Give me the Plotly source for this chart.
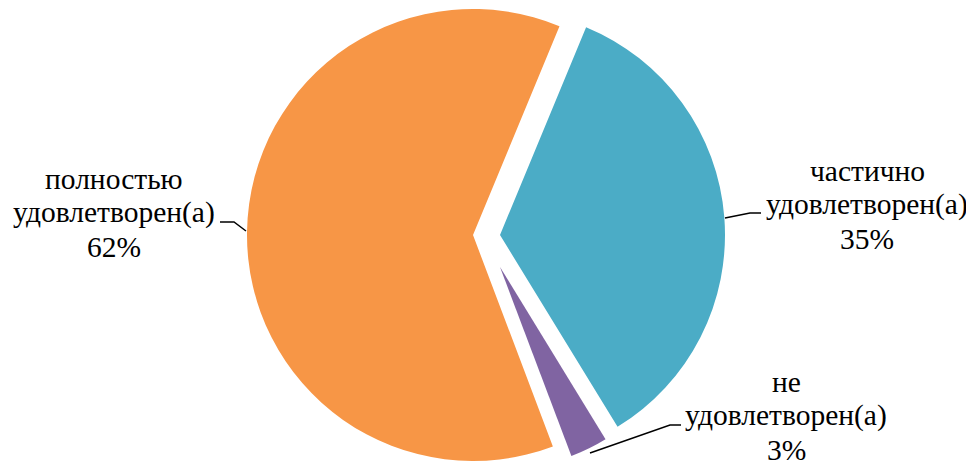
import plotly.graph_objects as go

# ---- data ----
categories = ["частично удовлетворен(а)", "не удовлетворен(а)", "полностью удовлетворен(а)"]
values = [35, 3, 62]
colors = ["#4BACC6", "#8064A2", "#F79646"]

# ---- layout (pixel geometry, in page pixels, of the exploded slices and labels) ----
W, H = 974, 461
OFFSET = 8  # default page (body) margin in front of the figure
slice_geom = [(500, 235, 225), (500, 267, 202), (473, 235, 226)]  # apex x, apex y, radius
label_x = [867, 786, 114]
label_mid_baseline = [215, 426, 223]
LINE_STEP = 34
leaders = [
    [(725, 218), (750, 213), (761, 213)],
    [(590, 453), (670, 425), (681, 425)],
    [(246, 231), (234, 222), (220, 222)],
]
ROTATION = 22.5
FSIZE = 29.5
FONT = dict(family="Times New Roman, Liberation Serif, serif", size=FSIZE, color="black")


def fx(x):
    return x - OFFSET


def fy(y):
    return y - OFFSET


def px_x(x):
    return fx(x) / W


def px_y(y):
    return 1 - fy(y) / H


total = sum(values)
fig = go.Figure()
for i, (cx, cy, r) in enumerate(slice_geom):
    cx, cy = fx(cx), fy(cy)
    cols = [colors[j] if j == i else "rgba(0,0,0,0)" for j in range(len(values))]
    fig.add_trace(go.Pie(
        labels=categories,
        values=values,
        sort=False,
        direction="clockwise",
        rotation=ROTATION,
        marker=dict(colors=cols, line=dict(width=0)),
        textinfo="none",
        hoverinfo="skip",
        showlegend=False,
        domain=dict(
            x=[max(0, (cx - r) / W), min(1, (cx + r) / W)],
            y=[max(0, (H - (cy + r)) / H), min(1, (H - (cy - r)) / H)],
        ),
    ))

annotations = []
for i, cat in enumerate(categories):
    first, rest = cat.split(" ", 1)
    pct = round(values[i] / total * 100)
    lines = [first, rest, f"{pct}%"]
    for k, line in enumerate(lines):
        baseline = label_mid_baseline[i] + (k - 1) * LINE_STEP
        center = baseline - 0.34 * FSIZE
        annotations.append(dict(
            x=px_x(label_x[i]), y=px_y(center), xref="paper", yref="paper",
            text=line, showarrow=False, align="center",
            xanchor="center", yanchor="middle", borderpad=0,
            font=FONT,
        ))

shapes = []
for pts in leaders:
    path = "M " + " L ".join(f"{px_x(x)},{px_y(y)}" for x, y in pts)
    shapes.append(dict(type="path", xref="paper", yref="paper", path=path,
                       line=dict(color="black", width=1.5)))

fig.update_layout(
    width=W, height=H,
    margin=dict(l=0, r=0, t=0, b=0),
    paper_bgcolor="white", plot_bgcolor="white",
    annotations=annotations,
    shapes=shapes,
)

fig.write_html("out.html")
